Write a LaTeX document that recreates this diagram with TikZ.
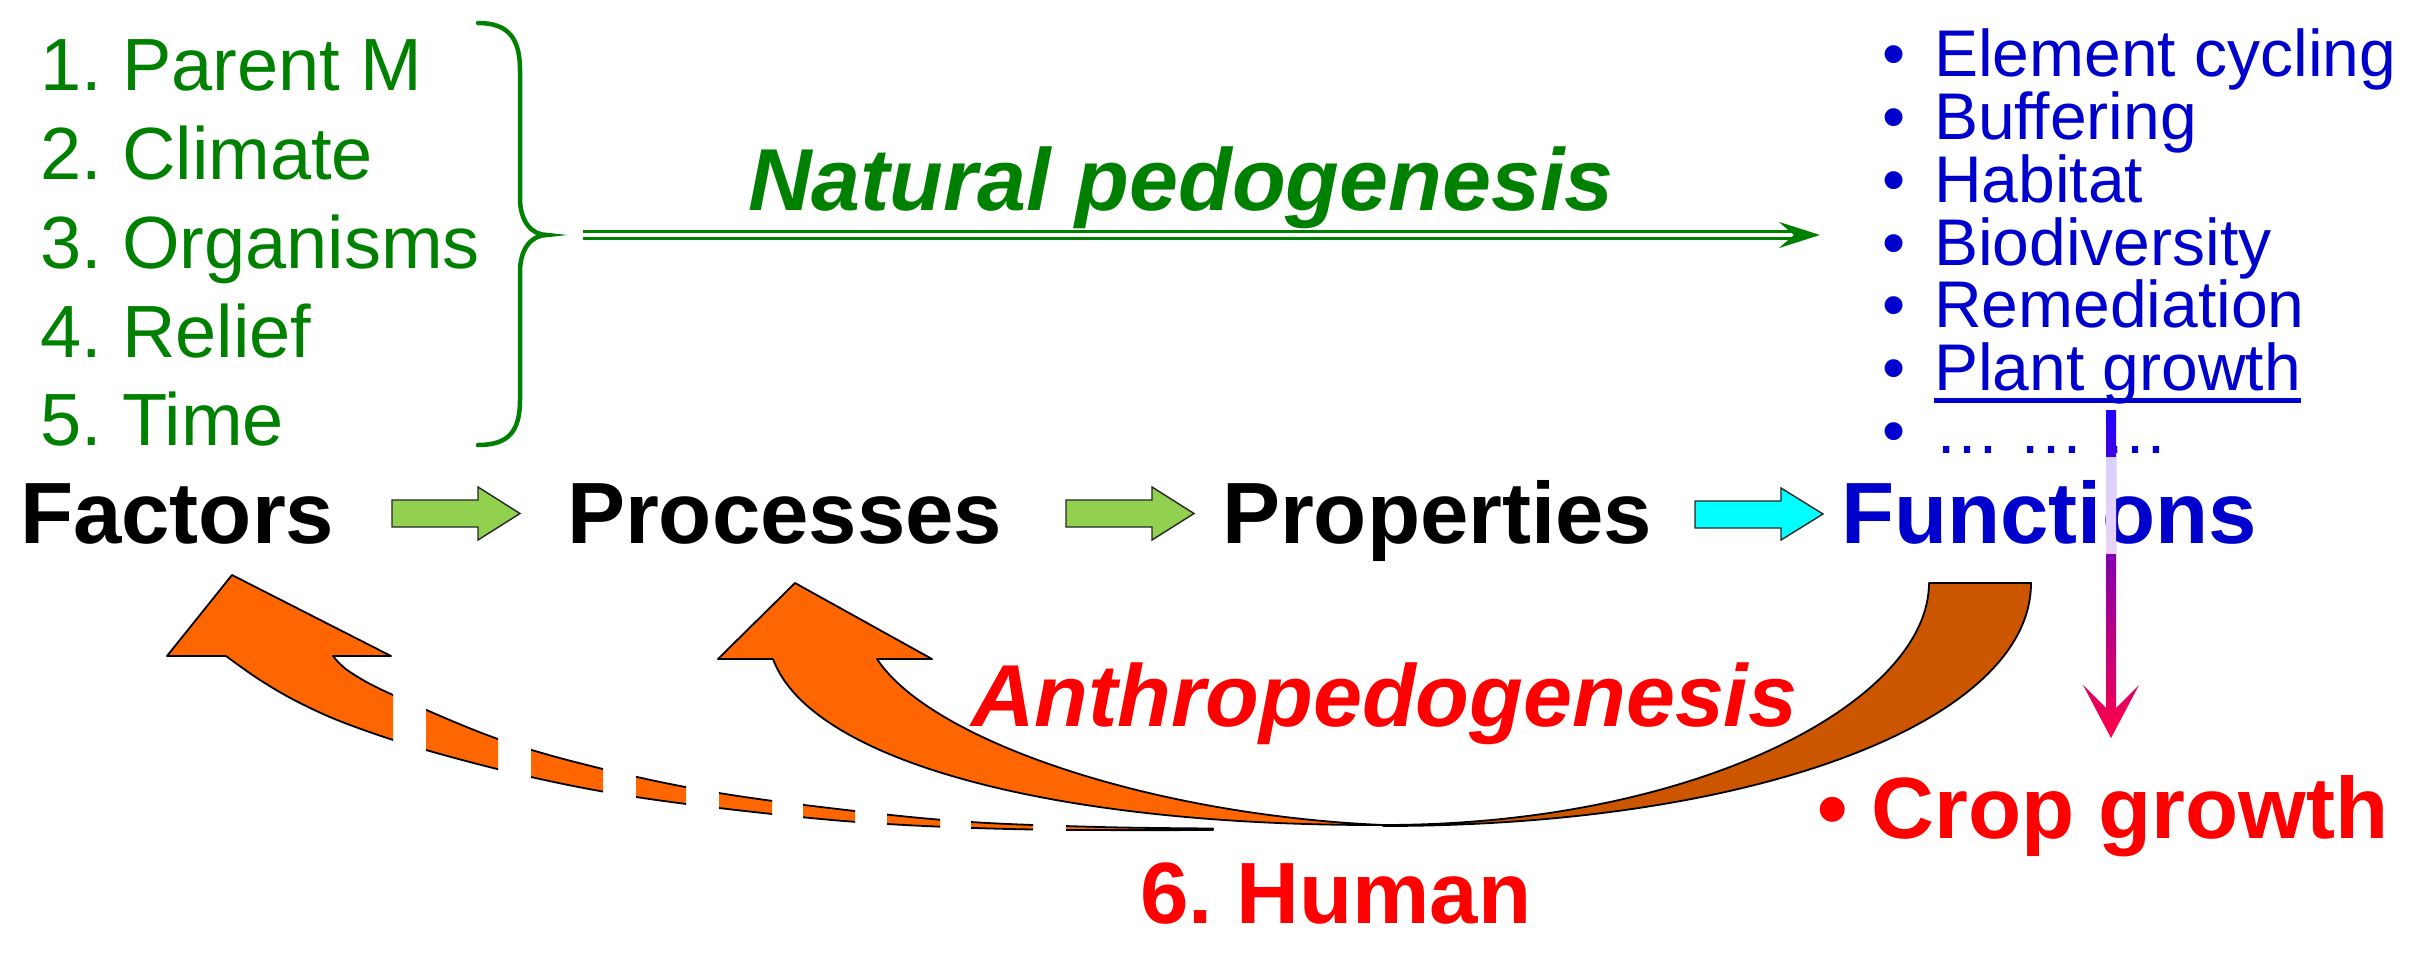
\documentclass[tikz,border=0pt]{standalone}
\usepackage{fontspec}
\setmainfont{Liberation Sans}
\usetikzlibrary{arrows.meta}
\definecolor{ggreen}{HTML}{008000}
\definecolor{fblue}{HTML}{0000CC}
\definecolor{rred}{HTML}{FF0000}
\definecolor{lgreen}{HTML}{92D050}
\definecolor{aqua}{HTML}{00FFFF}
\definecolor{orng}{HTML}{FF6600}
\definecolor{brwn}{HTML}{CC5500}
\definecolor{pblue}{HTML}{2000FF}
\definecolor{ppurp}{HTML}{A000C8}
\definecolor{ppink}{HTML}{FF0048}
\definecolor{lavA}{HTML}{D8D0FF}
\definecolor{lavB}{HTML}{EAD2F4}
\newcommand\myfs[1]{\fontsize{#1}{#1}\selectfont}
\frenchspacing
\begin{document}
\begin{tikzpicture}[x=1pt,y=-1pt,
  txt/.style={inner sep=0pt, outer sep=0pt, anchor=base west},
  glist/.style={txt, text=ggreen, font=\myfs{74}},
  blist/.style={txt, text=fblue, font=\myfs{66}},
  mainlbl/.style={txt, font=\myfs{87}\bfseries},
  italbl/.style={txt, font=\myfs{88}\bfseries\itshape},
  blockarrow/.style={draw=black!85, line width=1.4pt, line join=miter},
  orangeshape/.style={draw=black, line width=1.8pt, line join=round},
  natarrow/.style={draw=ggreen, line width=3.3pt, double=white, double distance=3.3pt,
     -{Stealth[length=41pt,width=26pt,inset=15pt]}}]
\fill[white] (0,0) rectangle (2428,958);
\useasboundingbox (0,0) rectangle (2428,958);

% ---- green list of factors
\node[glist] (g1) at (40,90) {1. Parent M};
\node[glist] (g2) at (40,179) {2. Climate};
\node[glist] (g3) at (40,268) {3. Organisms};
\node[glist] (g4) at (40,357) {4. Relief};
\node[glist] (g5) at (40,445) {5. Time};

% ---- brace
\coordinate (bt) at (547,235);
\draw[ggreen, line width=4.5pt, line cap=round]
  (478,23) .. controls (508,23) and (520,38) .. (520,70) -- (520,198)
  .. controls (520,222) and (532,235) .. (bt)
  .. controls (532,235) and (520,248) .. (520,272) -- (520,400)
  .. controls (520,432) and (508,445) .. (478,445);

% ---- natural pedogenesis
\coordinate (natS) at (583,235);
\coordinate (natE) at (1820,235);
\draw[natarrow] (natS) -- (natE);
\node[italbl, text=ggreen] (nat) at (748,210) {Natural pedogenesis};

% ---- blue list of functions
\node[blist] (p1) at (1882,76.7) {•};  \node[blist] (b1) at (1934,76.7) {Element cycling};
\node[blist] (p2) at (1882,139.5) {•}; \node[blist] (b2) at (1934,139.5) {Buffering};
\node[blist] (p3) at (1882,202.2) {•}; \node[blist] (b3) at (1934,202.2) {Habitat};
\node[blist] (p4) at (1882,265.0) {•}; \node[blist] (b4) at (1934,265.0) {Biodiversity};
\node[blist] (p5) at (1882,327.8) {•}; \node[blist] (b5) at (1934,327.8) {Remediation};
\node[blist] (p6) at (1882,390.5) {•}; \node[blist] (b6) at (1934,390.5) {Plant growth};
\node[blist] (p7) at (1882,453.3) {•}; \node[blist] (b7) at (1934,453.3) {… … …};
\draw[fblue, line width=5pt] ([yshift=-10pt]b6.base west) -- ([yshift=-10pt]b6.base east);

% ---- main row
\node[mainlbl] (fac) at (20,543) {Factors};
\node[mainlbl] (pro) at (567,543) {Processes};
\node[mainlbl] (prp) at (1222,543) {Properties};
\node[mainlbl, text=fblue] (fun) at (1841,543) {Functions};

% ---- block arrows
\filldraw[blockarrow, fill=lgreen] (392,500) -- (478,500) -- (478,487) -- (520,513.5) -- (478,540) -- (478,527) -- (392,527) -- cycle;
\filldraw[blockarrow, fill=lgreen] (1066,500) -- (1152,500) -- (1152,487) -- (1194,513.5) -- (1152,540) -- (1152,527) -- (1066,527) -- cycle;
\filldraw[blockarrow, fill=aqua] (1695,501) -- (1781,501) -- (1781,488) -- (1823,514) -- (1781,540) -- (1781,528) -- (1695,528) -- cycle;

% ---- dashed orange arrow to Factors
\begin{scope}
\clip (100,560) rectangle (393,850) (426,560) rectangle (498,850) (531,560) rectangle (603,850)
      (636,560) rectangle (686,850) (719,560) rectangle (772,850) (803,560) rectangle (855,850)
      (887,560) rectangle (940,850) (971,560) rectangle (1033,850) (1066,560) rectangle (1230,850);
\filldraw[orangeshape, fill=orng] (226,656) -- (167,656) -- (232,575) -- (391,656) -- (333,656)
  -- plot[smooth, tension=0.6] coordinates {(333,656) (350,672) (393,695) (498,739) (603,769) (719,793) (855,811) (971,822) (1100,827) (1213,828.5)}
  -- plot[smooth, tension=0.6] coordinates {(1213,830) (1033,829.5) (887,824) (772,814) (636,797) (531,777) (426,750) (350,725) (300,703) (260,680) (226,656)}
  -- cycle;
\end{scope}

% ---- solid curved arrow from Functions to Processes
\filldraw[orangeshape, fill=orng] (773,659) -- (718,659) -- (795,583) -- (932,659) -- (877,659)
  .. controls (930,740) and (1150,815) .. (1383,825)
  .. controls (1050,826) and (810,760) .. (773,659) -- cycle;
\filldraw[orangeshape, fill=brwn] (1383,826) .. controls (1760,826) and (2031,720) .. (2031,583)
  -- (1929,583) .. controls (1929,700) and (1700,825) .. (1383,825) -- cycle;

% ---- red labels
\node[italbl, text=rred] (anth) at (971,726) {Anthropedogenesis};
\node[mainlbl, text=rred] (hum) at (1140,923) {6. Human};
\node[mainlbl, text=rred] (crop) at (1817,838) {• Crop growth};

% ---- gradient arrow from Plant growth to Crop growth
\shade[top color=pblue, middle color=ppurp, bottom color=ppink]
  (2106,410) -- (2116,410) -- (2116,708) -- (2139,685) -- (2111,738) -- (2083,685) -- (2106,708) -- cycle;
\shade[top color=lavA, bottom color=lavB] (2106,457) rectangle (2116,553);
\end{tikzpicture}
\end{document}
